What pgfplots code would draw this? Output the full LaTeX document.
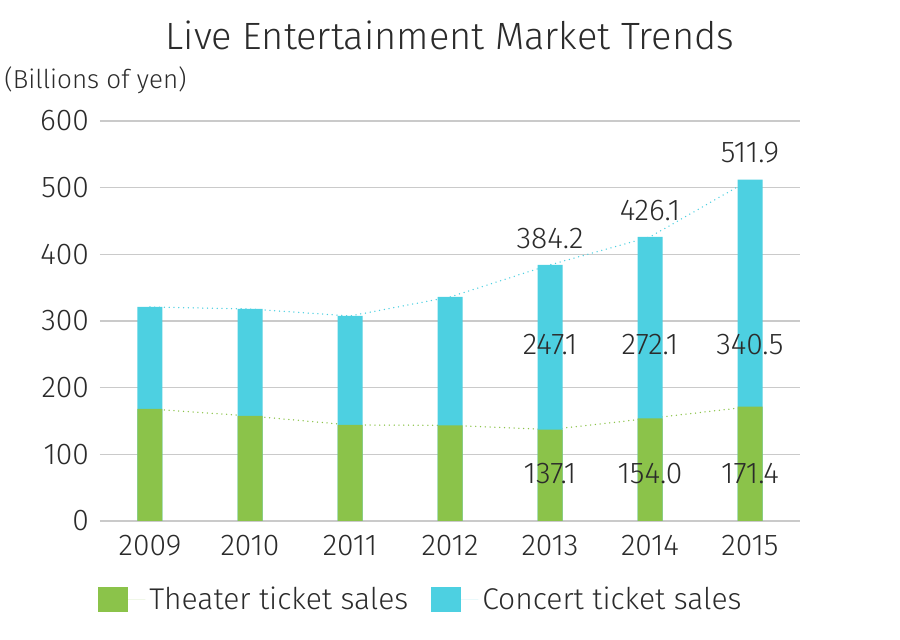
\documentclass[border=0pt]{standalone}
\usepackage{pgfplots}
\usepackage{pgfplotstable}
\pgfplotsset{compat=1.18}
\usepackage{fontspec}
\setmainfont{Fira Sans Light}
\definecolor{theater}{HTML}{8BC34A}
\definecolor{concert}{HTML}{4DD0E1}
\definecolor{txt}{HTML}{2B2B2B}
\definecolor{gridc}{HTML}{CACACA}

% billions of yen; totals = theater + concert
\pgfplotstableread{
x year theater concert total
0 2009 168.0 153.0 321.0
1 2010 157.5 160.5 318.0
2 2011 144.0 163.5 307.5
3 2012 143.5 192.5 336.0
4 2013 137.1 247.1 384.2
5 2014 154.0 272.1 426.1
6 2015 171.4 340.5 511.9
}\data

% value labels: x, height where the label sits, text
\pgfplotstableread{
x y lab
4 264 247.1
5 264 272.1
6 264 340.5
4 71 137.1
5 71 154.0
6 71 171.4
}\inlabels

\pgfplotstableread{
x y lab
4 384.2 384.2
5 426.1 426.1
6 511.9 511.9
}\toplabels

\begin{document}
\begin{tikzpicture}
\begin{axis}[
    scale only axis,
    width=350pt, height=200pt,
    xmin=-0.5, xmax=6.5, ymin=0, ymax=600,
    xtick={0,...,6},
    xticklabels={2009,2010,2011,2012,2013,2014,2015},
    ytick={0,100,...,600},
    axis line style={draw=none},
    major tick length=0pt,
    ymajorgrids,
    grid style={gridc, line width=0.75pt},
    /pgf/number format/assume math mode=true,
    tick label style={font=\fontsize{15}{18}\selectfont, text=txt},
    xticklabel style={yshift=-3.5pt},
    yticklabel style={xshift=-2pt},
    title={Live Entertainment Market Trends},
    title style={font=\fontsize{19}{23}\selectfont, text=txt,
        at={(0.5,1)}, anchor=center, yshift=37pt},
    ylabel={(Billions of yen)},
    every axis y label/.style={at={(rel axis cs:0,1)}, anchor=center,
        xshift=-2.25pt, yshift=20.5pt,
        font=\fontsize{13}{16}\selectfont, text=txt},
    legend style={draw=none, fill=none, at={(-0.003,-0.1975)}, anchor=west,
        font=\fontsize{15}{18}\selectfont, text=txt, inner xsep=0pt,
        /tikz/every even column/.append style={column sep=9.5pt}},
    legend columns=2,
    legend cell align=left,
    nodes near coords style={font=\fontsize{15}{18}\selectfont, text=txt},
]
% dotted trend lines, behind the bars
\addplot[concert, line width=0.75pt, line cap=round,
    dash pattern=on 0pt off 2.4pt, forget plot] table[x=x, y=total] {\data};
\addplot[theater, line width=0.75pt, line cap=round,
    dash pattern=on 0pt off 2.4pt, forget plot] table[x=x, y=theater] {\data};

% stacked bars: concert on top of theater
\addplot[ybar, bar width=12.5pt, bar shift=0pt, fill=concert, draw=none,
    forget plot] table[x=x, y=total] {\data};
\addplot[ybar, bar width=12.5pt, bar shift=0pt, fill=theater, draw=none,
    forget plot] table[x=x, y=theater] {\data};

% labels
\addplot[draw=none, mark=none, nodes near coords, point meta=explicit symbolic,
    nodes near coords style={anchor=center}, forget plot]
    table[x=x, y=y, meta=lab] {\inlabels};
\addplot[draw=none, mark=none, nodes near coords, point meta=explicit symbolic,
    nodes near coords style={anchor=south, inner sep=0pt, yshift=8pt}, forget plot]
    table[x=x, y=y, meta=lab] {\toplabels};

\addlegendimage{draw=none, fill=theater,
    legend image code/.code={\fill (0pt,-6.25pt) rectangle (15pt,6.25pt);
        \path (0pt,0pt) -- (23.5pt,0pt);}}
\addlegendentry{Theater ticket sales}
\addlegendimage{draw=none, fill=concert,
    legend image code/.code={\fill (0pt,-6.25pt) rectangle (15pt,6.25pt);
        \path (0pt,0pt) -- (23.5pt,0pt);}}
\addlegendentry{Concert ticket sales}
\end{axis}
\pgfresetboundingbox
\path ([shift={(-50pt,-59.5pt)}]current axis.south west)
    rectangle ([shift={(50pt,60.5pt)}]current axis.north east);
\end{tikzpicture}
\end{document}
